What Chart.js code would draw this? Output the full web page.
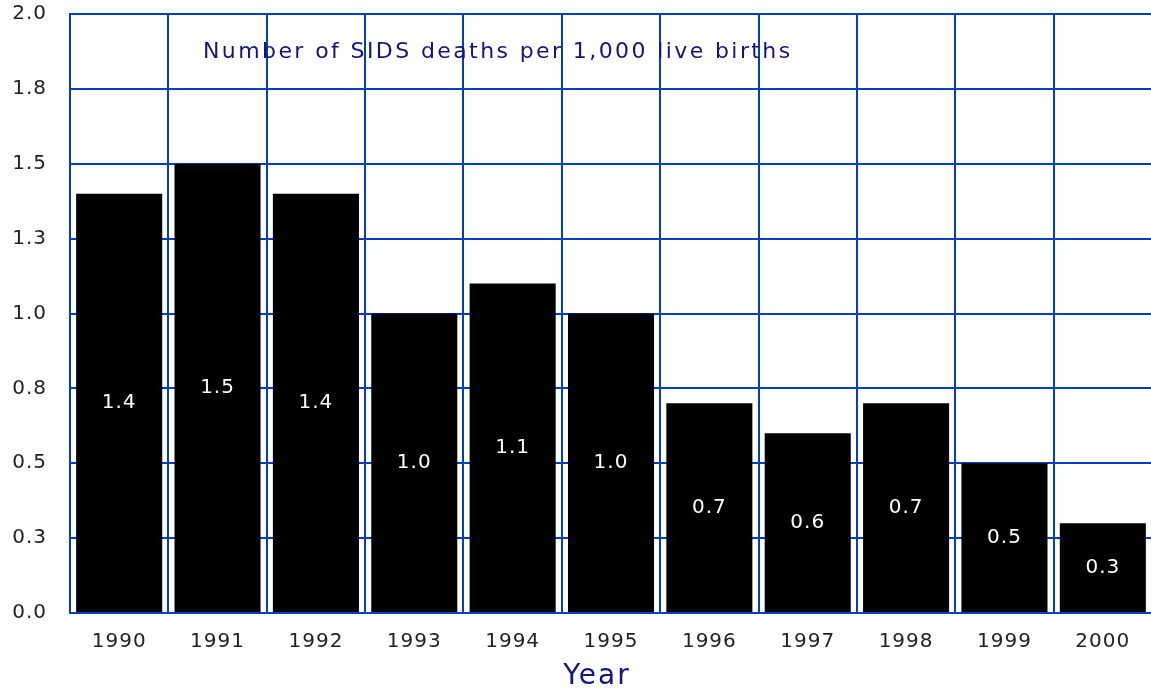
<!DOCTYPE html>
<html>
<head>
<meta charset="utf-8">
<script src="https://cdn.jsdelivr.net/npm/chart.js@4/dist/chart.umd.min.js"></script>
<style>
  html, body { margin: 0; padding: 0; background: #fff; overflow: hidden; }
  #wrap { width: 1153px; height: 698px; }
</style>
</head>
<body>
<div id="wrap"><canvas id="myChart"></canvas></div>
<script>
// data
const years = ['1990', '1991', '1992', '1993', '1994', '1995', '1996', '1997', '1998', '1999', '2000'];
const sidsRate = [1.4, 1.5, 1.4, 1.0, 1.1, 1.0, 0.7, 0.6, 0.7, 0.5, 0.3];
const yTickValues = [0, 0.25, 0.5, 0.75, 1.0, 1.25, 1.5, 1.75, 2.0];
const yTickLabels = ['0.0', '0.3', '0.5', '0.8', '1.0', '1.3', '1.5', '1.8', '2.0'];

const gridBlue = '#0040c0';
const navy = '#14147f';
const fontFamily = '"DejaVu Sans", Verdana, sans-serif';

// wide letter spacing like the original
const spacingPlugin = {
    id: 'spacing',
    beforeDraw(chart) {
        chart.ctx.letterSpacing = '1px';
    }
};

// value labels inside each bar, caption inside the plot, and the axis title
const barLabels = {
    id: 'barLabels',
    afterDatasetsDraw(chart) {
        const ctx = chart.ctx;
        const meta = chart.getDatasetMeta(0);
        ctx.save();
        ctx.letterSpacing = '1px';
        ctx.fillStyle = '#ffffff';
        ctx.font = '20px ' + fontFamily;
        ctx.textAlign = 'center';
        ctx.textBaseline = 'middle';
        meta.data.forEach((bar, i) => {
            const v = chart.data.datasets[0].data[i];
            ctx.fillText(v.toFixed(1), bar.x, (bar.y + bar.base) / 2);
        });

        const area = chart.chartArea;
        ctx.letterSpacing = '2.4px';
        ctx.fillStyle = navy;
        ctx.font = '22px ' + fontFamily;
        ctx.textAlign = 'left';
        ctx.fillText('Number of SIDS deaths per 1,000 live births', area.left + 133, area.top + 38);

        ctx.letterSpacing = '2px';
        ctx.font = '28px ' + fontFamily;
        ctx.textAlign = 'center';
        ctx.fillText('Year', (area.left + area.right) / 2 - 14, area.bottom + 64);
        ctx.restore();
    }
};

const ctx = document.getElementById('myChart').getContext('2d');
const sidsChart = new Chart(ctx, {
    type: 'bar',
    data: {
        labels: years,
        datasets: [{
            label: 'SIDS deaths',
            data: sidsRate,
            backgroundColor: '#000000',
            borderWidth: 0,
            barPercentage: 0.875,
            categoryPercentage: 1.0
        }]
    },
    options: {
        responsive: true,
        maintainAspectRatio: false,
        animation: false,
        layout: { padding: { top: 14, right: 1, left: 0, bottom: 0 } },
        plugins: {
            legend: { display: false },
            tooltip: { enabled: false }
        },
        scales: {
            x: {
                grid: { color: gridBlue, lineWidth: 2, drawTicks: false, offset: true },
                border: { color: gridBlue, width: 2 },
                ticks: {
                    color: '#222222',
                    font: { family: fontFamily, size: 20 },
                    padding: 17,
                    maxRotation: 0
                },
                afterFit(scale) { scale.height = 85; }
            },
            y: {
                min: 0,
                max: 2.0,
                grid: { color: gridBlue, lineWidth: 2, drawTicks: false },
                border: { color: gridBlue, width: 2 },
                afterBuildTicks(scale) {
                    scale.ticks = yTickValues.map(v => ({ value: v }));
                },
                ticks: {
                    color: '#222222',
                    font: { family: fontFamily, size: 20 },
                    padding: 23,
                    callback: (value) => yTickLabels[yTickValues.indexOf(value)]
                },
                afterFit(scale) {
                    scale.width = 70;
                    scale.paddingTop = 0;
                    scale.paddingBottom = 0;
                }
            }
        }
    },
    plugins: [spacingPlugin, barLabels]
});
</script>
</body>
</html>
